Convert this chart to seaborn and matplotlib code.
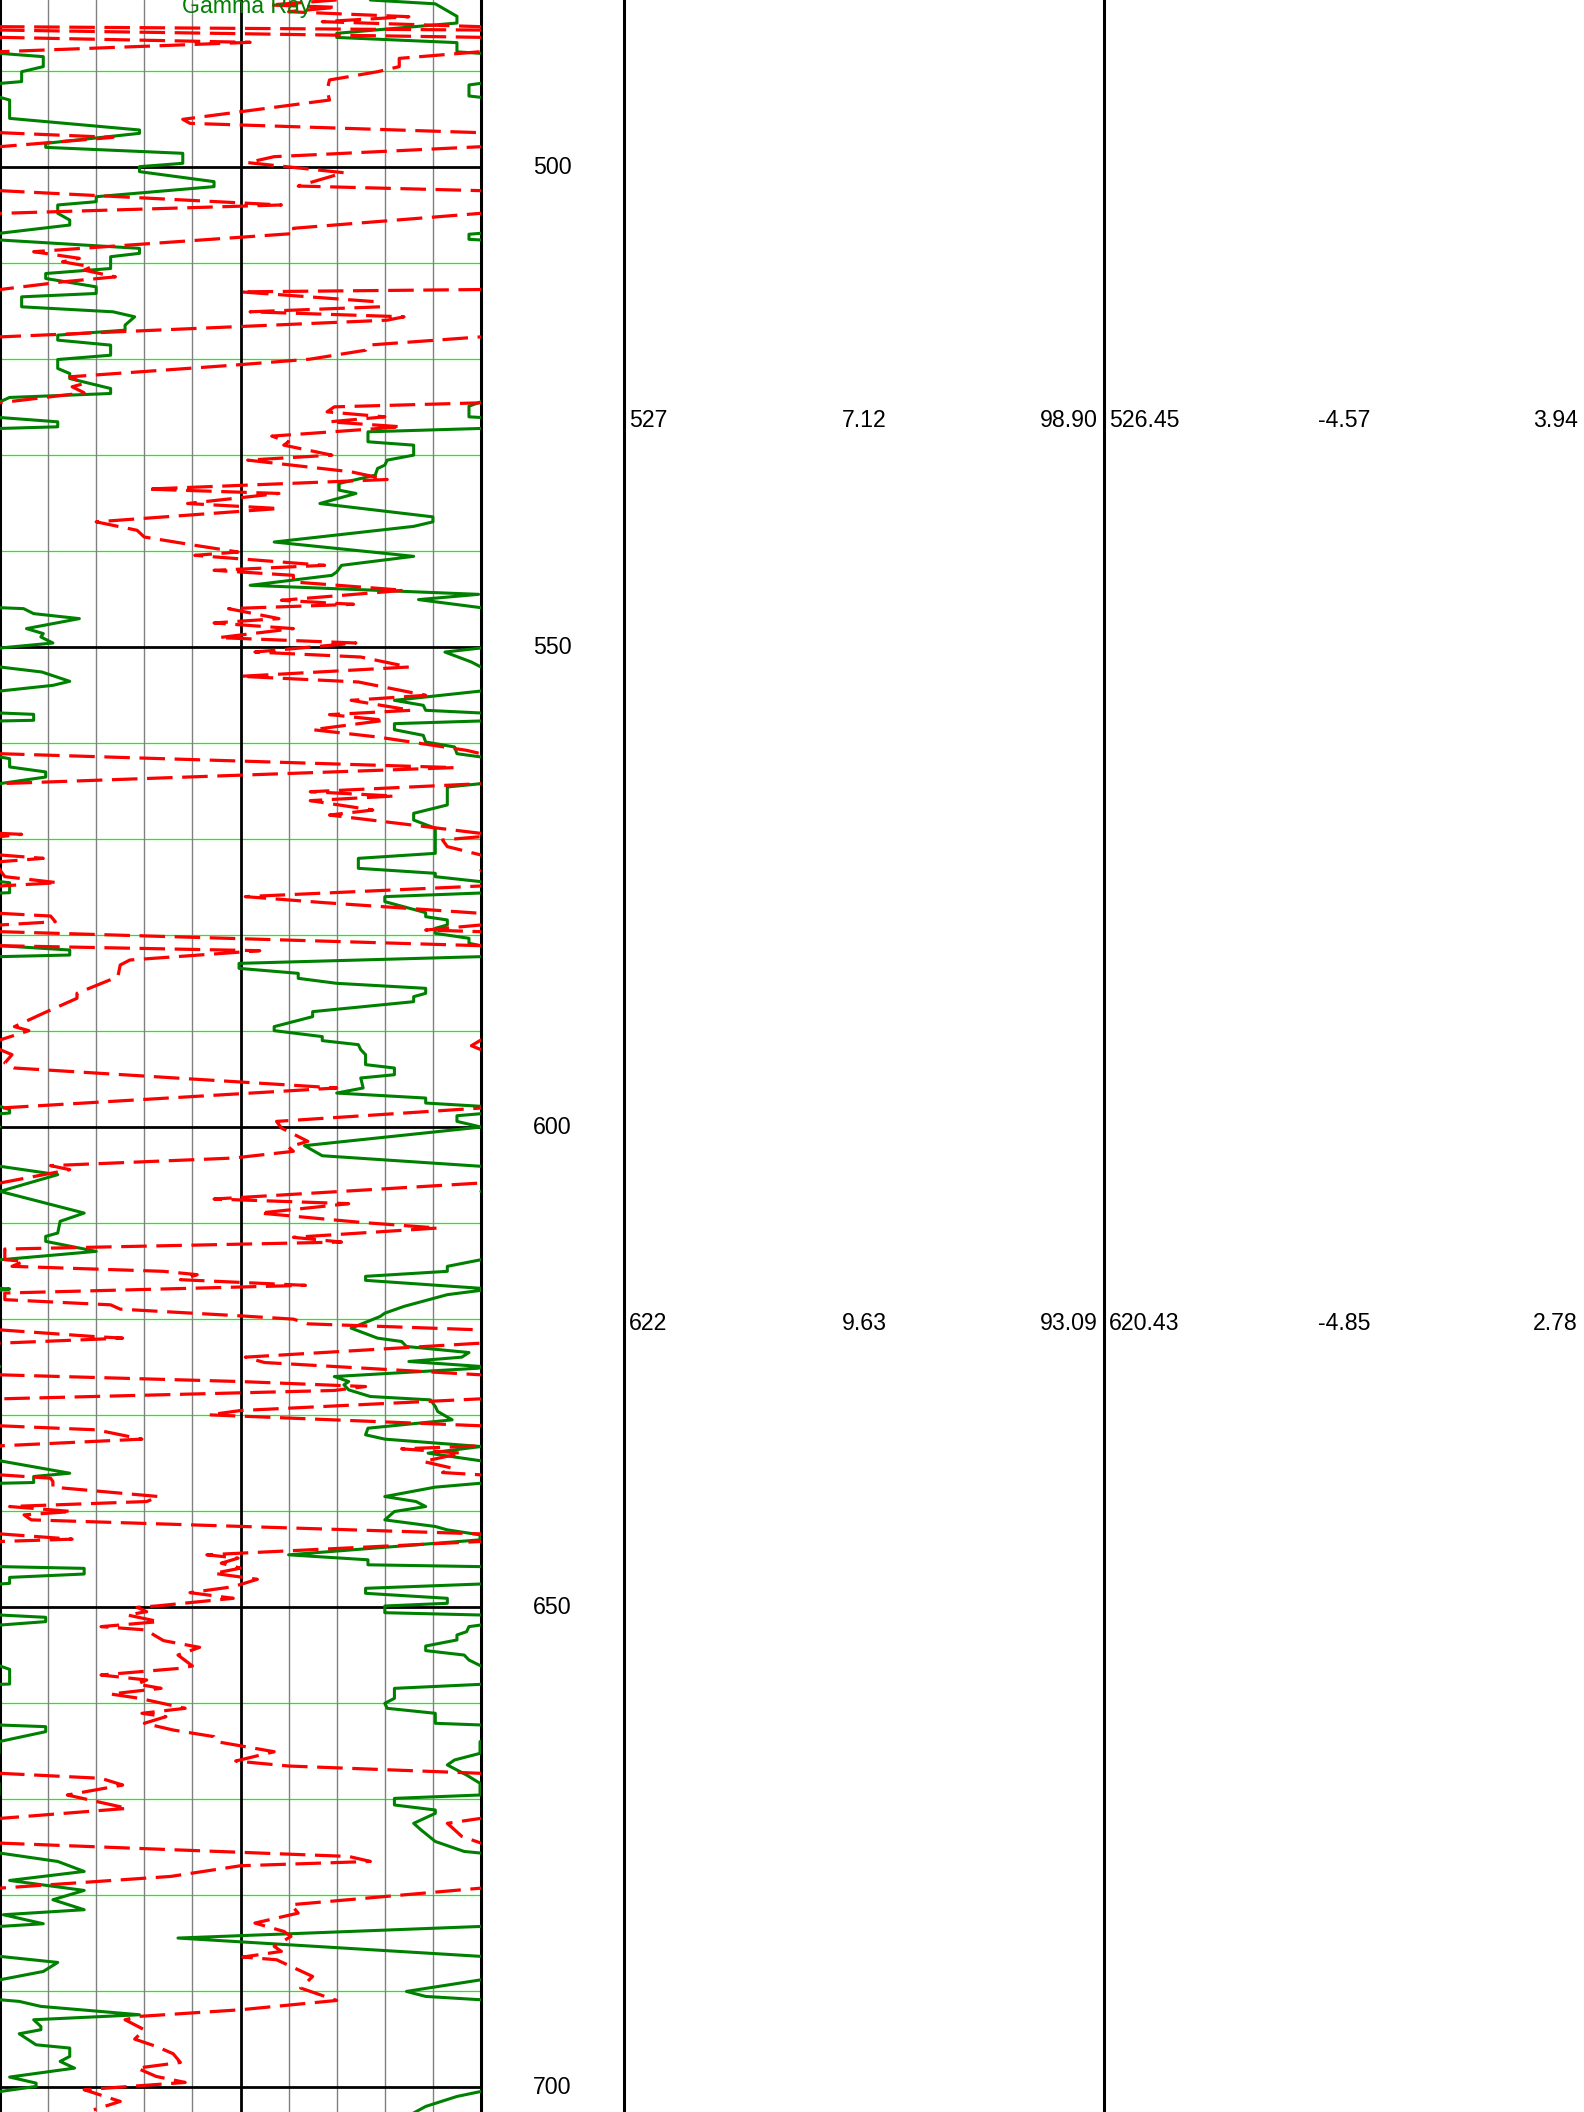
import numpy as np
import pandas as pd
import matplotlib
matplotlib.use("Agg")
import matplotlib.pyplot as plt
import seaborn as sns

# --- Gamma Ray curve (track divisions 0-10, values above 10 show on the backup scale) ---
gr_depth = [
    482.6, 483.0, 484.3, 485.0, 486.07, 486.5, 487.04, 488.0, 488.16, 488.5, 489.54, 490.07,
    491.1, 491.28, 491.45, 492.6, 492.74, 493.02, 494.93, 496.14, 496.49, 497.53, 497.95, 498.57,
    499.61, 499.96, 500.48, 501.52, 502.04, 503.09, 503.61, 503.95, 504.82, 505.52, 506.04, 506.9,
    507.0, 507.53, 507.6, 508.47, 508.99, 509.34, 510.57, 511.09, 511.61, 512.48, 513.17, 513.52,
    514.56, 515.08, 515.6, 516.47, 516.99, 517.51, 518.03, 518.55, 519.6, 520.05, 520.98, 521.51,
    522.03, 523.07, 523.59, 524.0, 524.46, 524.91, 526.02, 526.09, 526.54, 527.06, 527.23, 527.58,
    528.62, 528.97, 530.01, 530.53, 531.05, 531.4, 532.1, 532.44, 532.96, 533.66, 534.0, 535.05,
    536.44, 536.96, 537.43, 539.06, 540.55, 541.49, 542.18, 542.53, 543.57, 544.51, 545.06, 545.9,
    546.0, 546.52, 547.04, 548.08, 548.6, 548.95, 549.58, 550.1, 550.52, 551.56, 552.08, 552.6,
    553.57, 553.99, 554.58, 555.55, 556.07, 556.59, 556.87, 557.01, 557.63, 557.7, 557.98, 558.61,
    559.2, 559.89, 560.41, 561.11, 561.45, 561.63, 562.49, 563.01, 563.54, 564.23, 564.58, 566.45,
    567.32, 568.02, 568.88, 571.49, 572.01, 573.05, 573.57, 573.92, 574.44, 574.55, 575.59, 575.62,
    576.0, 576.52, 577.67, 578.09, 578.43, 578.95, 579.3, 579.82, 580.34, 580.86, 581.11, 581.56,
    582.08, 582.25, 582.95, 583.47, 583.99, 584.51, 585.03, 585.55, 586.07, 586.42, 586.94, 587.98,
    588.5, 589.54, 589.96, 590.58, 591.0, 591.42, 591.94, 592.46, 593.5, 593.85, 594.55, 594.89,
    595.93, 596.46, 596.98, 597.5, 597.84, 598.19, 598.54, 598.61, 598.82, 599.41, 600.0, 601.94,
    602.99, 604.09, 604.96, 606.7, 608.96, 609.82, 611.04, 611.39, 611.91, 612.95, 613.82, 614.51,
    615.03, 615.55, 615.97, 616.87, 617.01, 617.46, 618.68, 619.39, 619.74, 620.95, 621.99, 622.34,
    622.86, 623.49, 623.97, 624.42, 624.94, 625.12, 625.99, 626.51, 626.85, 627.38, 628.07, 628.42,
    629.11, 629.63, 630.5, 631.37, 632.06, 632.51, 633.28, 633.97, 634.77, 636.06, 636.4, 637.03,
    637.1, 637.51, 638.49, 639.01, 639.53, 640.05, 640.92, 641.61, 641.96, 642.48, 643.0, 644.56,
    645.08, 645.6, 645.79, 645.97, 646.56, 646.91, 647.53, 647.6, 648.05, 648.57, 649.09, 649.61,
    649.89, 650.59, 650.83, 651.07, 651.52, 651.87, 652.04, 652.57, 652.91, 653.43, 654.06, 654.54,
    655.0, 655.52, 656.14, 656.49, 658.02, 658.05, 658.47, 659.51, 660.03, 660.55, 661.07, 662.11,
    662.29, 662.46, 662.98, 664.02, 665.24, 665.93, 666.45, 667.5, 668.36, 669.58, 669.93, 670.62,
    671.14, 671.49, 672.53, 673.2, 674.42, 675.46, 675.63, 676.5, 677.54, 678.48, 679.52, 680.49,
    681.53, 682.05, 682.99, 683.27, 684.48, 686.39, 687.02, 687.96, 688.83, 690.04, 690.56, 690.91,
    691.08, 691.6, 692.47, 692.99, 693.69, 694.03, 694.45, 695.6, 695.94, 696.81, 697.33, 698.03,
    698.96, 699.59, 699.94, 700.46, 700.98, 702.02, 702.7,
]
gr_value = [
    7.7, 9.05, 9.5, 9.5, 7.0, 7.0, 9.5, 9.5, 10.0, 10.9, 10.9, 10.45,
    10.45, 10.0, 9.75, 9.75, 10.0, 10.2, 10.2, 12.9, 12.9, 10.95, 10.95, 13.8,
    13.8, 12.9, 12.9, 14.45, 14.45, 12.0, 12.0, 11.2, 11.2, 11.45, 11.45, 10.0,
    9.75, 9.75, 10.0, 12.9, 12.9, 12.3, 12.3, 10.95, 10.95, 12.0, 12.0, 10.45,
    10.45, 12.35, 12.8, 12.6, 12.6, 11.2, 11.2, 12.3, 12.3, 11.2, 11.2, 11.45,
    11.45, 12.3, 12.3, 10.2, 10.0, 9.75, 9.75, 10.0, 11.2, 11.2, 10.0, 7.65,
    7.65, 8.6, 8.6, 8.05, 8.0, 7.85, 7.8, 7.5, 7.05, 7.05, 7.4, 6.65,
    9.0, 9.0, 8.6, 5.7, 8.6, 7.1, 7.0, 6.9, 5.2, 9.95, 8.7, 10.0,
    10.49, 10.7, 11.65, 10.55, 10.9, 10.85, 11.1, 10.0, 9.25, 9.8, 10.0, 10.87,
    11.45, 11.1, 10.0, 8.2, 8.8, 8.85, 10.0, 10.7, 10.7, 10.0, 8.2, 8.2,
    8.8, 8.85, 9.45, 9.5, 10.0, 10.2, 10.2, 10.95, 10.95, 10.0, 9.3, 9.3,
    8.6, 8.6, 9.05, 9.05, 7.45, 7.45, 9.05, 9.05, 10.0, 10.2, 10.2, 10.0,
    8.0, 8.0, 8.85, 8.85, 9.3, 9.3, 9.05, 9.05, 9.75, 9.75, 10.0, 11.45,
    11.45, 10.0, 4.97, 4.97, 6.2, 6.2, 7.0, 8.85, 8.85, 8.6, 8.6, 6.5,
    6.5, 5.7, 5.7, 6.7, 6.7, 7.45, 7.5, 7.6, 7.6, 8.2, 8.2, 7.5,
    7.55, 7.0, 8.85, 8.85, 10.0, 10.2, 10.2, 10.0, 9.5, 9.5, 10.0, 6.33,
    6.7, 10.0, 11.2, 10.0, 11.75, 11.25, 11.2, 10.95, 10.95, 12.0, 10.0, 9.3,
    9.3, 7.6, 7.6, 10.2, 10.0, 9.3, 8.4, 8.0, 7.9, 7.3, 7.85, 8.35,
    8.45, 9.75, 9.6, 8.5, 10.0, 9.95, 6.95, 7.25, 7.15, 7.25, 7.7, 8.95,
    9.05, 9.1, 9.4, 7.65, 7.6, 8.0, 10.0, 8.9, 10.0, 11.45, 10.7, 10.7,
    10.0, 9.05, 8.0, 8.65, 8.85, 8.2, 8.0, 9.05, 9.3, 9.98, 9.98, 6.0,
    7.65, 7.65, 10.0, 11.75, 11.75, 10.2, 10.2, 10.0, 7.6, 7.6, 9.3, 9.3,
    8.0, 8.0, 10.0, 10.95, 10.95, 10.0, 9.75, 9.7, 9.5, 9.5, 8.85, 8.85,
    9.65, 9.75, 10.0, 10.2, 10.2, 10.0, 8.2, 8.2, 8.0, 8.05, 9.05, 9.05,
    10.0, 10.95, 10.95, 9.98, 9.98, 9.45, 9.3, 9.7, 9.98, 9.98, 8.2, 8.2,
    9.05, 9.05, 8.6, 8.75, 9.05, 9.65, 10.0, 11.2, 11.75, 10.2, 11.75, 11.1,
    11.75, 10.07, 10.9, 10.0, 3.7, 10.0, 11.2, 10.9, 10.0, 8.45, 8.85, 10.0,
    10.4, 10.85, 12.9, 10.7, 10.85, 10.85, 10.4, 10.75, 11.45, 11.45, 11.25, 11.55,
    10.2, 10.75, 10.75, 10.0, 9.5, 8.85, 8.6,
]

# --- red dashed curve (wrap-around scale, 10 divisions per wrap) ---
rd_depth = [
    482.6, 483.12, 483.36, 483.82, 484.34, 484.86, 485.38, 485.73, 486.49, 487.01, 487.98, 488.68,
    489.54, 490.07, 490.93, 491.98, 493.02, 495.03, 495.45, 496.42, 496.91, 497.88, 498.92, 499.54,
    500.59, 501.98, 502.46, 503.95, 504.82, 506.38, 506.91, 508.82, 509.51, 509.87, 510.39, 510.74,
    511.44, 511.96, 512.76, 513.0, 514.04, 514.56, 515.08, 515.6, 515.95, 517.69, 518.55, 519.08,
    520.01, 520.64, 521.85, 522.55, 522.89, 523.52, 524.56, 524.98, 525.5, 526.02, 526.54, 527.06,
    528.03, 528.62, 528.97, 530.01, 530.53, 531.75, 532.55, 533.55, 534.0, 535.05, 535.57, 536.96,
    537.84, 538.54, 539.4, 540.1, 540.45, 541.49, 542.01, 542.53, 543.22, 544.09, 545.13, 545.55,
    546.0, 547.04, 547.49, 548.08, 549.02, 549.58, 550.52, 551.04, 552.08, 553.05, 553.64, 555.03,
    555.55, 556.59, 557.04, 557.63, 558.61, 559.37, 560.76, 561.11, 562.56, 564.23, 565.07, 565.52,
    566.0, 566.98, 567.5, 569.41, 569.51, 569.75, 570.1, 570.79, 571.66, 572.01, 572.36, 572.7,
    573.23, 573.92, 574.55, 574.89, 576.0, 576.63, 577.74, 578.02, 578.61, 578.95, 579.48, 579.65,
    581.11, 581.63, 582.6, 583.12, 584.34, 586.07, 586.59, 588.15, 589.54, 589.96, 590.93, 591.53,
    591.94, 592.46, 593.33, 593.85, 595.93, 598.02, 599.41, 600.1, 601.49, 602.08, 602.53, 603.23,
    604.02, 604.44, 605.83, 607.5, 607.98, 608.96, 609.93, 610.52, 611.49, 611.98, 612.71, 613.82,
    613.99, 614.51, 615.03, 615.38, 615.9, 616.49, 617.29, 617.98, 618.52, 618.97, 619.67, 620.01,
    620.5, 621.13, 621.82, 621.99, 622.51, 623.97, 624.53, 625.81, 626.51, 627.03, 627.44, 628.31,
    629.53, 629.98, 631.12, 631.54, 632.51, 633.21, 633.52, 633.97, 634.84, 635.53, 635.99, 636.23,
    636.58, 636.92, 637.51, 638.49, 639.01, 639.53, 640.05, 640.4, 640.92, 642.38, 642.93, 643.17,
    644.56, 644.91, 645.43, 645.95, 646.49, 647.11, 647.88, 648.5, 649.09, 649.89, 650.03, 650.48,
    650.83, 651.52, 652.04, 652.39, 652.91, 653.5, 654.2, 655.0, 656.14, 656.38, 657.08, 657.6,
    658.02, 658.47, 659.06, 659.51, 660.55, 661.07, 661.42, 662.11, 662.81, 663.5, 664.02, 665.07,
    666.04, 666.56, 667.32, 667.84, 668.54, 669.58, 670.97, 672.01, 672.53, 673.2, 673.89, 674.59,
    675.98, 676.5, 676.95, 678.06, 679.28, 681.01, 681.88, 682.92, 683.79, 684.31, 685.35, 685.87,
    686.46, 686.74, 688.48, 689.69, 690.98, 691.95, 692.64, 692.99, 694.03, 695.01, 695.77, 696.53,
    697.44, 698.03, 698.9, 699.52, 700.28, 701.5, 702.37,
]
rd_value = [
    7.0, 5.6, 7.0, 6.0, 8.5, 6.7, 10.0, 20.0, 30.0, 35.2, 30.0, 28.3,
    28.3, 27.85, 26.85, 26.8, 26.85, 23.8, 23.95, 30.0, 32.35, 30.0, 25.7, 25.15,
    27.15, 26.2, 30.0, 35.85, 30.0, 26.1, 26.15, 20.7, 21.65, 21.3, 21.9, 21.75,
    22.4, 21.3, 20.0, 15.0, 17.85, 17.9, 15.2, 18.4, 18.05, 10.0, 7.65, 7.6,
    6.45, 4.85, 1.45, 1.75, 1.5, 1.75, 0.0, -3.05, -3.2, -2.0, -3.15, -1.65,
    -4.35, -4.0, -4.1, -3.1, -4.85, -2.7, -1.95, -6.95, -4.2, -6.1, -4.2, -8.0,
    -7.15, -7.0, -5.95, -5.05, -5.95, -3.25, -5.55, -3.9, -3.9, -1.6, -4.15, -2.65,
    -5.25, -4.2, -5.55, -3.9, -5.45, -2.6, -4.7, -2.5, -1.5, -5.0, -2.55, -1.15,
    -2.7, -1.45, -3.15, -2.0, -3.5, -2.15, -0.3, 0.0, 9.45, 0.0, -3.55, -1.8,
    -3.55, -2.25, -3.15, 0.0, 0.45, 0.0, -0.8, -0.7, 0.0, 0.9, 0.0, -0.05,
    0.0, 0.1, 1.2, 0.0, -4.9, -3.25, 0.0, 1.05, 1.15, 0.0, -1.15, 0.0,
    10.0, 15.4, 12.7, 12.5, 12.45, 11.6, 11.6, 10.9, 10.3, 10.6, 10.0, 9.8,
    10.0, 10.25, 10.1, 10.3, 17.0, 10.0, 5.75, 5.85, 6.4, 6.0, 6.1, 4.85,
    1.05, 1.45, 0.0, -5.55, -2.75, -4.6, -2.5, -0.9, -3.9, -2.9, -9.9, -9.9,
    -9.5, -9.75, -6.6, -5.9, -6.25, -3.65, -9.9, -9.9, -7.7, -7.5, -5.0, -3.9,
    -3.6, 0.0, 1.95, 2.55, 0.0, -4.9, -4.5, 0.0, 5.0, 7.6, 6.95, 0.0,
    -5.0, -5.65, 0.0, 2.0, 2.95, 0.0, -1.65, -0.4, -1.2, -0.6, -0.8, 0.0,
    1.05, 1.1, 1.1, 3.3, 3.05, 0.2, 1.5, 0.5, 0.65, 10.0, 11.5, 10.0,
    4.3, 4.95, 4.6, 5.0, 4.45, 5.35, 4.85, 3.95, 4.85, 3.25, 2.85, 3.05,
    2.65, 3.3, 2.1, 3.05, 3.2, 3.4, 4.15, 3.7, 4.0, 3.75, 2.1, 3.05,
    2.85, 3.35, 2.3, 2.9, 3.85, 2.95, 3.45, 3.0, 3.6, 4.45, 4.5, 5.7,
    4.9, 6.0, 10.0, 12.1, 12.55, 11.4, 12.65, 10.0, 9.3, 9.45, 9.6, 10.0,
    17.25, 17.7, 15.0, 13.55, 10.0, 6.05, 6.2, 5.3, 5.9, 6.05, 5.7, 5.85,
    5.05, 5.75, 6.5, 6.25, 7.0, 5.0, 2.9, 2.6, 3.0, 2.8, 3.25, 3.6,
    3.75, 2.85, 3.25, 3.85, 1.75, 2.5, 1.95,
]

# depth labels and the two table columns
depth_labels = [500, 550, 600, 650, 700]
md = ["527", "622"]
incl = ["7.12", "9.63"]
azim = ["98.90", "93.09"]
tvd = [526.45, 620.43]
north = ["-4.57", "-4.85"]
east = ["3.94", "2.78"]

sns.set_style("white")
plt.rcParams["font.family"] = ["Liberation Sans", "DejaVu Sans"]
plt.rcParams["text.color"] = "black"
FS = 16.7

W, H = 1584, 2112
fig = plt.figure(figsize=(W / 100, H / 100), dpi=100)


def col(x0, x1):
    return [x0 / W, 0.0, (x1 - x0) / W, 1.0]


ax_log = fig.add_axes(col(0, 481))
ax_dep = fig.add_axes(col(481, 624), sharey=ax_log)
ax_t1 = fig.add_axes(col(624, 1104), sharey=ax_log)
ax_t2 = fig.add_axes(col(1104, 1584), sharey=ax_log)
for ax in (ax_log, ax_dep, ax_t1, ax_t2):
    ax.set_facecolor("none")
ax_log.set_zorder(3)
ax_t1.set_zorder(2)

# track grid
for d in np.arange(490, 701, 10):
    if d % 50:
        ax_log.axhline(d, color="#00ff00", lw=0.9, zorder=1)
for i in range(1, 10):
    if i == 5:
        ax_log.axvline(i, color="black", lw=2.0, zorder=3)
    else:
        ax_log.axvline(i, color="#808080", lw=1.0, zorder=1)
for d in depth_labels:
    ax_log.axhline(d, color="black", lw=2.0, zorder=3)

gr = pd.DataFrame({"depth": gr_depth, "value": gr_value})
rd = pd.DataFrame({"depth": rd_depth, "value": rd_value})

for k in (0, 1):
    sns.lineplot(x=gr["value"] - 10 * k, y=gr["depth"], orient="y", sort=False,
                 estimator=None, color="#008000", lw=2.2, ax=ax_log, zorder=4)
for k in range(-2, 4):
    sns.lineplot(x=rd["value"] - 10 * k, y=rd["depth"], orient="y", sort=False,
                 estimator=None, color="red", lw=2.3, linestyle=(0, (8, 3)),
                 ax=ax_log, zorder=5)

ax_log.set_xlim(0, 10)
ax_log.set_ylim(702.6, 482.6)

# depth column
for d in depth_labels:
    ax_dep.text(0.5, d, str(d), ha="center", va="center", fontsize=FS,
                color="black", transform=ax_dep.get_yaxis_transform())

# table columns
pad_l, pad_r = 5 / 480, 1 - 6 / 480
for i, y in enumerate(tvd):
    tr1 = ax_t1.get_yaxis_transform()
    ax_t1.text(pad_l, y, md[i], ha="left", va="center", fontsize=FS, color="black", transform=tr1)
    ax_t1.text(0.5, y, incl[i], ha="center", va="center", fontsize=FS, color="black", transform=tr1)
    ax_t1.text(pad_r, y, azim[i], ha="right", va="center", fontsize=FS, color="black", transform=tr1)
    tr2 = ax_t2.get_yaxis_transform()
    ax_t2.text(pad_l, y, f"{y:.2f}", ha="left", va="center", fontsize=FS, color="black", transform=tr2)
    ax_t2.text(0.5, y, north[i], ha="center", va="center", fontsize=FS, color="black", transform=tr2)
    ax_t2.text(pad_r, y, east[i], ha="right", va="center", fontsize=FS, color="black", transform=tr2)

for ax in (ax_log, ax_dep, ax_t1, ax_t2):
    ax.set_xlabel("")
    ax.set_ylabel("")
    ax.tick_params(left=False, bottom=False, labelleft=False, labelbottom=False)
    for s in ax.spines.values():
        s.set_visible(False)
for ax in (ax_dep, ax_t1, ax_t2):
    ax.set_xlim(0, 1)

for ax in (ax_log, ax_t1):
    for side in ("left", "right"):
        ax.spines[side].set_visible(True)
        ax.spines[side].set_color("black")
        ax.spines[side].set_linewidth(2.2)

fig.text(247 / W, 1 - 13 / H, "Gamma Ray", color="#008000", fontsize=FS,
         ha="center", va="baseline")

fig.savefig("out.png", dpi=100)
